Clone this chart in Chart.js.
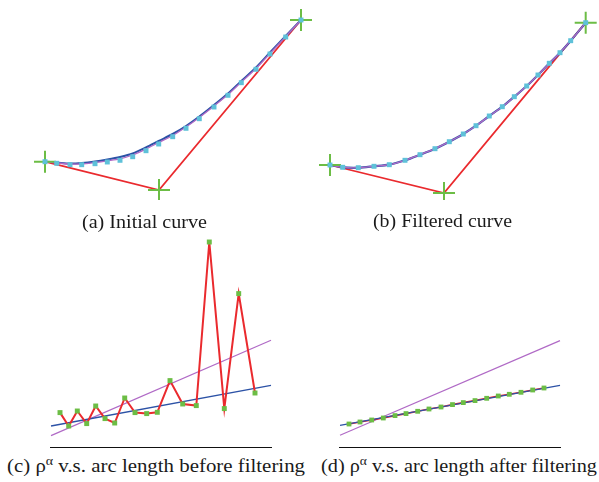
<!DOCTYPE html>
<html>
<head>
<meta charset="utf-8">
<script src="https://cdn.jsdelivr.net/npm/chart.js@4.4.1/dist/chart.umd.min.js"></script>
<style>
  html, body { margin: 0; padding: 0; background: #fff; }
  body { width: 599px; height: 482px; position: relative; overflow: hidden; }
  canvas { position: absolute; }
  .cap { position: absolute; font-family: "Liberation Serif", "Times New Roman", "DejaVu Serif", serif; font-size: 18px; line-height: 18px; color: #1a1a1a; white-space: nowrap; transform-origin: 0 0; }
  .cap sup { font-size: 12px; vertical-align: 7px; line-height: 0; }
</style>
</head>
<body>
<canvas id="ca" width="314" height="200" style="left:0;top:0"></canvas>
<canvas id="cb" width="285" height="200" style="left:314px;top:0"></canvas>
<canvas id="cc" width="300" height="218" style="left:0;top:230px"></canvas>
<canvas id="cd" width="299" height="218" style="left:300px;top:230px"></canvas>
<div class="cap" data-w="125" style="left:82px;top:213px">(a) Initial curve</div>
<div class="cap" data-w="139" style="left:373px;top:212px">(b) Filtered curve</div>
<div class="cap" data-w="298" style="left:7px;top:457px">(c) ρ<sup>α</sup> v.s. arc length before filtering</div>
<div class="cap" data-w="276" style="left:321px;top:457px">(d) ρ<sup>α</sup> v.s. arc length after filtering</div>
<script>
// ---------- Panel (a): initial curve ----------
const ctrlA_x = [45, 159, 301];
const ctrlA_y = [38.3, 10, 180];
const curveA_x = [45, 56.7, 70, 81.7, 95, 107.3, 120, 132.7, 146, 158.7, 172.7, 186, 199.3, 214, 228, 241.3, 256, 270, 285.7, 301];
const curveA_samples = [38.3, 36.7, 35.3, 35.3, 36.3, 38, 39.7, 43.3, 49.3, 56, 63.3, 71.7, 81.3, 93, 104.7, 117.3, 130.7, 146, 163, 180];
const curveA_blue = [38.3, 37.5, 36.5, 37, 38.5, 40.5, 43, 46.5, 52.5, 59, 66, 74, 83.5, 95, 106.5, 119, 132.5, 147.5, 164, 180];
const curveA_purple = [38.3, 37, 36, 36, 37.5, 39.2, 41.2, 45, 51, 57.5, 64.5, 73, 82.5, 94, 105.5, 118, 131.5, 146.5, 163.5, 180];

// ---------- Panel (b): filtered curve ----------
const ctrlB_x = [16, 130, 271.7];
const ctrlB_y = [35, 7, 177.3];
const curveB_x = [16, 28.7, 44.3, 60, 75.3, 91, 106, 121, 135.3, 149.3, 162, 175.3, 188.3, 200.3, 212.7, 224, 235.3, 246, 256.7, 271.7];
const curveB_samples = [35, 32.7, 32.3, 33.7, 35.3, 39.7, 45.3, 51.3, 58.3, 66, 74.3, 84, 93.3, 103.3, 114, 125, 136.7, 147.3, 159.3, 177.3];

// ---------- Panel (c): rho^alpha vs arc length before filtering ----------
const arcC = [9, 17.7, 26.3, 35.7, 44.7, 54, 63.7, 73.7, 84, 95.7, 106.3, 119, 131.7, 145.3, 158.3, 173.3, 187.7, 204];
const rhoC = [35.4, 22, 37, 24.4, 42, 29.4, 25, 50, 35.4, 34.4, 35.7, 67.4, 44, 42.4, 206, 39.4, 154.4, 55];
const fitC_x = [0, 220];
const fitC_blue = [22, 62.7];
const fitC_purple = [12.4, 107.7];

// ---------- Panel (d): rho^alpha vs arc length after filtering ----------
const arcD = [9, 20, 31.7, 43.3, 55, 66, 77.7, 89, 101, 112.5, 123.3, 135, 146.7, 158.3, 169.3, 181, 192.7, 204];
const rhoD = [24, 26, 28, 30, 32.4, 34.4, 36.7, 39, 41, 43.4, 45.4, 47.4, 49.7, 52, 53.7, 55.7, 58, 60];
const fitD_x = [0, 220];
const fitD_blue = [22.7, 62.7];
const fitD_purple = [12.7, 107.4];

const RED = '#ea2a2e', GREEN = '#6cbd45', BLUE = '#2c52a6', PURPLE = '#b06ac6', CYAN = '#5ec1d9';

function pts(xs, ys) { return xs.map((x, i) => ({ x: x, y: ys[i] })); }

function lineDs(data, color, width, tension) {
  return { data: data, showLine: true, borderColor: color, borderWidth: width, pointRadius: 0, tension: tension || 0, clip: false, fill: false };
}
function markDs(data, color, style, radius, bw) {
  return { data: data, showLine: false, pointStyle: style, pointRadius: radius, pointBackgroundColor: color, pointBorderColor: color, pointBorderWidth: bw, clip: false };
}

function baseOptions(xmax, ymax, xAxis, pad) {
  return {
    responsive: false, animation: false, devicePixelRatio: 1,
    layout: { padding: pad, autoPadding: false },
    plugins: { legend: { display: false }, tooltip: { enabled: false }, title: { display: false } },
    scales: {
      x: xAxis ? {
        type: 'linear', min: 0, max: xmax, display: true,
        grid: { display: false, drawTicks: false },
        border: { display: true, color: '#111', width: 2 },
        ticks: { display: false },
        afterFit: function (s) { s.height = 0; }
      } : { type: 'linear', min: 0, max: xmax, display: false },
      y: { type: 'linear', min: 0, max: ymax, display: false }
    }
  };
}

// Panel (a)
new Chart(document.getElementById('ca'), {
  type: 'scatter',
  data: { datasets: [
    markDs(pts(curveA_x, curveA_samples), CYAN, 'rect', 3.5, 0),
    markDs(pts(ctrlA_x, ctrlA_y), GREEN, 'cross', 11, 2),
    lineDs(pts(curveA_x, curveA_purple), PURPLE, 1.3, 0.3),
    lineDs(pts(curveA_x, curveA_blue), BLUE, 2, 0.3),
    lineDs(pts(ctrlA_x, ctrlA_y), RED, 1.8, 0)
  ]},
  options: baseOptions(314, 200, false, 0)
});

// Panel (b)
new Chart(document.getElementById('cb'), {
  type: 'scatter',
  data: { datasets: [
    markDs(pts(curveB_x, curveB_samples), CYAN, 'rect', 3.5, 0),
    markDs(pts(ctrlB_x, ctrlB_y), GREEN, 'cross', 11, 2),
    lineDs(pts(curveB_x, curveB_samples), PURPLE, 1.3, 0.3),
    lineDs(pts(curveB_x, curveB_samples), BLUE, 2.2, 0.3),
    lineDs(pts(ctrlB_x, ctrlB_y), RED, 1.8, 0)
  ]},
  options: baseOptions(285, 200, false, 0)
});

// Panel (c)
const dsC = lineDs(pts(arcC, rhoC), RED, 2, 0);
dsC.pointRadius = 3.5; dsC.pointStyle = 'rect'; dsC.pointBackgroundColor = GREEN; dsC.pointBorderColor = GREEN; dsC.pointBorderWidth = 0;
new Chart(document.getElementById('cc'), {
  type: 'scatter',
  data: { datasets: [
    dsC,
    lineDs(pts(fitC_x, fitC_blue), BLUE, 1.3, 0),
    lineDs(pts(fitC_x, fitC_purple), PURPLE, 1.2, 0)
  ]},
  options: baseOptions(220, 215, true, { left: 51, right: 29, top: 3, bottom: 0 })
});

// Panel (d)
new Chart(document.getElementById('cd'), {
  type: 'scatter',
  data: { datasets: [
    markDs(pts(arcD, rhoD), GREEN, 'rect', 3.4, 0),
    lineDs(pts(fitD_x, fitD_blue), BLUE, 1.3, 0),
    lineDs(pts(arcD, rhoD), RED, 1.6, 0),
    lineDs(pts(fitD_x, fitD_purple), PURPLE, 1.2, 0)
  ]},
  options: baseOptions(220, 215, true, { left: 40, right: 39, top: 3, bottom: 0 })
});

// Stretch captions horizontally to the widths they occupy in the reference figure
document.querySelectorAll('.cap').forEach(function (el) {
  const target = parseFloat(el.getAttribute('data-w'));
  const w = el.getBoundingClientRect().width;
  if (w > 0) el.style.transform = 'scaleX(' + (target / w).toFixed(4) + ')';
});
</script>
</body>
</html>
